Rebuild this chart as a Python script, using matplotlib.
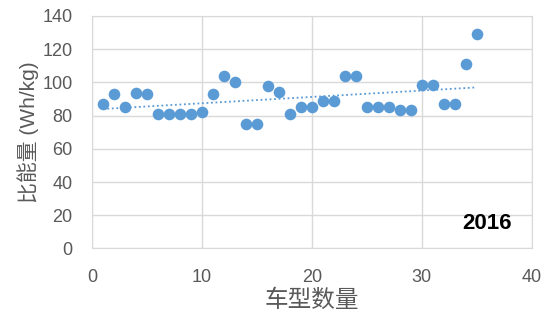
import numpy as np
import matplotlib
matplotlib.use("Agg")
import matplotlib.pyplot as plt

plt.rcParams['font.family'] = ['Liberation Sans', 'Noto Sans CJK SC', 'DejaVu Sans']

# 车型编号与比能量 (Wh/kg), 2016
models = list(range(1, 36))
energy = [87, 93, 85, 93.5, 93, 81, 81, 81, 81, 82,
          93, 104, 100, 75, 75, 98, 94, 81, 85, 85,
          89, 89, 104, 104, 85, 85, 85, 83.5, 83.5, 98.7,
          98.7, 87, 87, 111, 129]
year_label = "2016"

fig = plt.figure(figsize=(5.5, 3.33), dpi=100)
ax = fig.add_axes([0.167, 0.254, 0.80, 0.698])

ax.scatter(models, energy, s=70, color='#5B9BD5', zorder=3, linewidths=0)

# 线性趋势线
k, b = np.polyfit(models, energy, 1)
xt = np.array([models[0], models[-1]])
ax.plot(xt, k * xt + b, linestyle=(0, (1, 1.5)), color='#5B9BD5', lw=1.3, zorder=2)

ax.set_xlim(0, 40)
ax.set_ylim(0, 140)
ax.set_xticks(range(0, 41, 10))
ax.set_yticks(range(0, 141, 20))
ax.grid(True, color='#d9d9d9', lw=1)
ax.set_axisbelow(True)
for s in ax.spines.values():
    s.set_color('#d9d9d9')
ax.tick_params(length=0, labelsize=13, colors='#595959')
ax.tick_params(axis='x', pad=15)
ax.tick_params(axis='y', pad=14)

ax.set_xlabel("车型数量", fontsize=17, color='#595959', labelpad=2)
ax.set_ylabel("比能量 (Wh/kg)", fontsize=15, color='#595959', labelpad=2)

ax.text(0.955, 0.06, year_label, transform=ax.transAxes, ha='right', va='bottom',
        fontsize=16, fontweight='bold')

fig.savefig("out.png", dpi=100)
